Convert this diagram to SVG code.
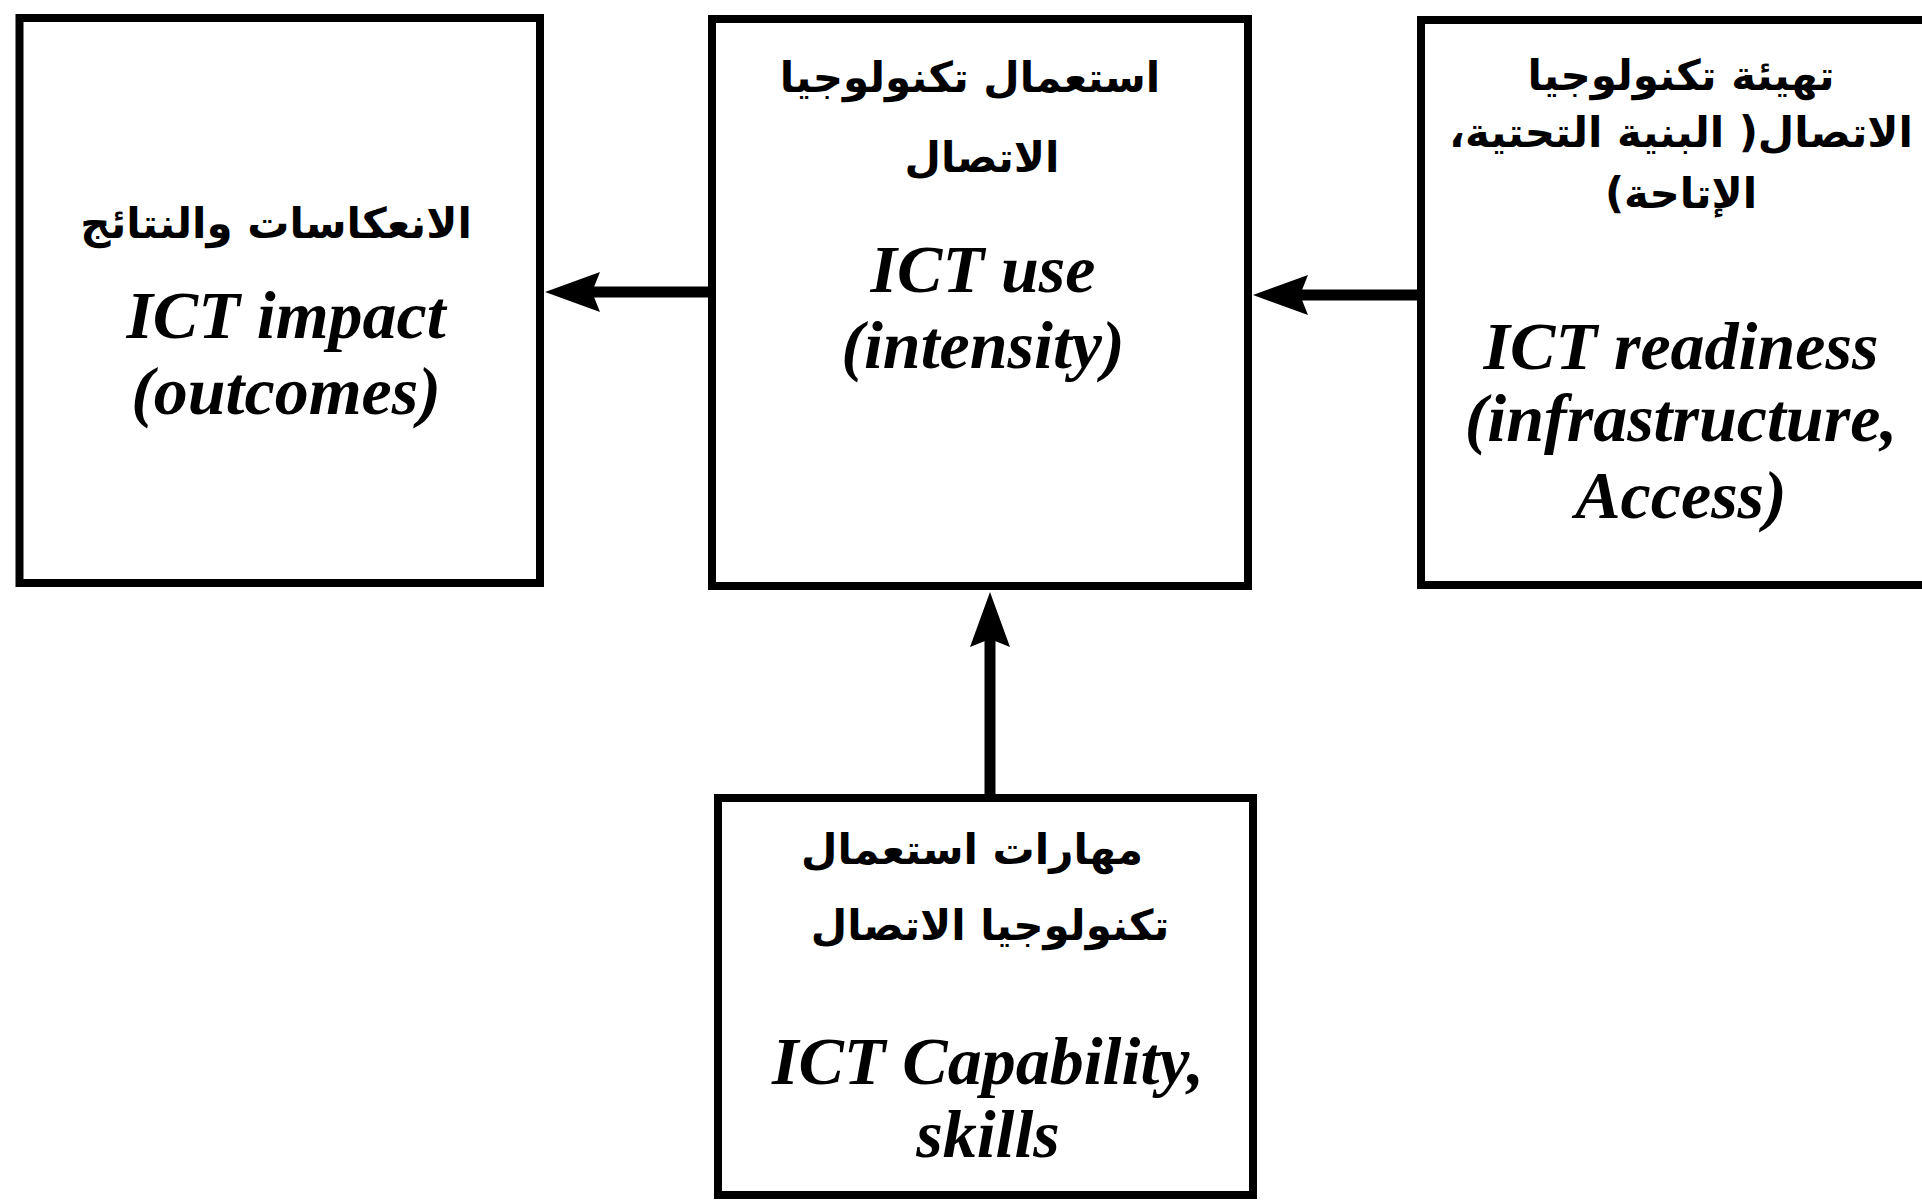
<svg xmlns="http://www.w3.org/2000/svg" width="1922" height="1203" viewBox="0 0 1922 1203">
<style>
.box{fill:#fff;stroke:#000;stroke-width:8}
.en{font-family:"Liberation Serif","Times New Roman",serif;font-weight:bold;font-style:italic;font-size:68px;fill:#000;text-anchor:middle}
.ar{font-family:"DejaVu Sans","Noto Sans",sans-serif;font-weight:bold;font-size:42px;fill:#000;text-anchor:middle}
.conn{stroke:#000;stroke-width:11;fill:none}
</style>
<defs>
<marker id="ah" markerUnits="userSpaceOnUse" markerWidth="56" markerHeight="42" refX="10" refY="20" orient="auto" viewBox="0 0 56 40">
<path d="M0,0 L55,20 L0,40 L8,20 z" fill="#000"/>
</marker>
</defs>
<rect width="1922" height="1203" fill="#fff"/>
<g id="connectors">
<line class="conn" x1="708" y1="292" x2="590" y2="292" marker-end="url(#ah)"/>
<line class="conn" x1="1421" y1="295" x2="1298" y2="295" marker-end="url(#ah)"/>
<line class="conn" x1="990" y1="798" x2="990" y2="637" marker-end="url(#ah)"/>
</g>
<g id="node-impact">
<rect class="box" x="19.5" y="18" width="520.5" height="565"/>
<text class="ar" x="276" y="238" direction="rtl">الانعكاسات والنتائج</text>
<text class="en" x="286" y="338">ICT impact</text>
<text class="en" x="286" y="414">(outcomes)</text>
</g>
<g id="node-use">
<rect class="box" x="712" y="19" width="536" height="567"/>
<text class="ar" x="970" y="92" direction="rtl">استعمال تكنولوجيا</text>
<text class="ar" x="982" y="172" direction="rtl">الاتصال</text>
<text class="en" x="983" y="292">ICT use</text>
<text class="en" x="983" y="368">(intensity)</text>
</g>
<g id="node-readiness">
<rect class="box" x="1421" y="20" width="520" height="565"/>
<text class="ar" x="1681" y="90" direction="rtl">تهيئة تكنولوجيا</text>
<text class="ar" x="1681" y="147" direction="rtl">الاتصال( البنية التحتية،</text>
<text class="ar" x="1681" y="208" direction="rtl">الإتاحة)</text>
<text class="en" x="1681" y="369">ICT readiness</text>
<text class="en" x="1681" y="441">(infrastructure,</text>
<text class="en" x="1681" y="518">Access)</text>
</g>
<g id="node-capability">
<rect class="box" x="718" y="798" width="535" height="397"/>
<text class="ar" x="972" y="864" direction="rtl">مهارات استعمال</text>
<text class="ar" x="990" y="940" direction="rtl">تكنولوجيا الاتصال</text>
<text class="en" x="988" y="1084">ICT Capability,</text>
<text class="en" x="988" y="1157">skills</text>
</g>
</svg>
